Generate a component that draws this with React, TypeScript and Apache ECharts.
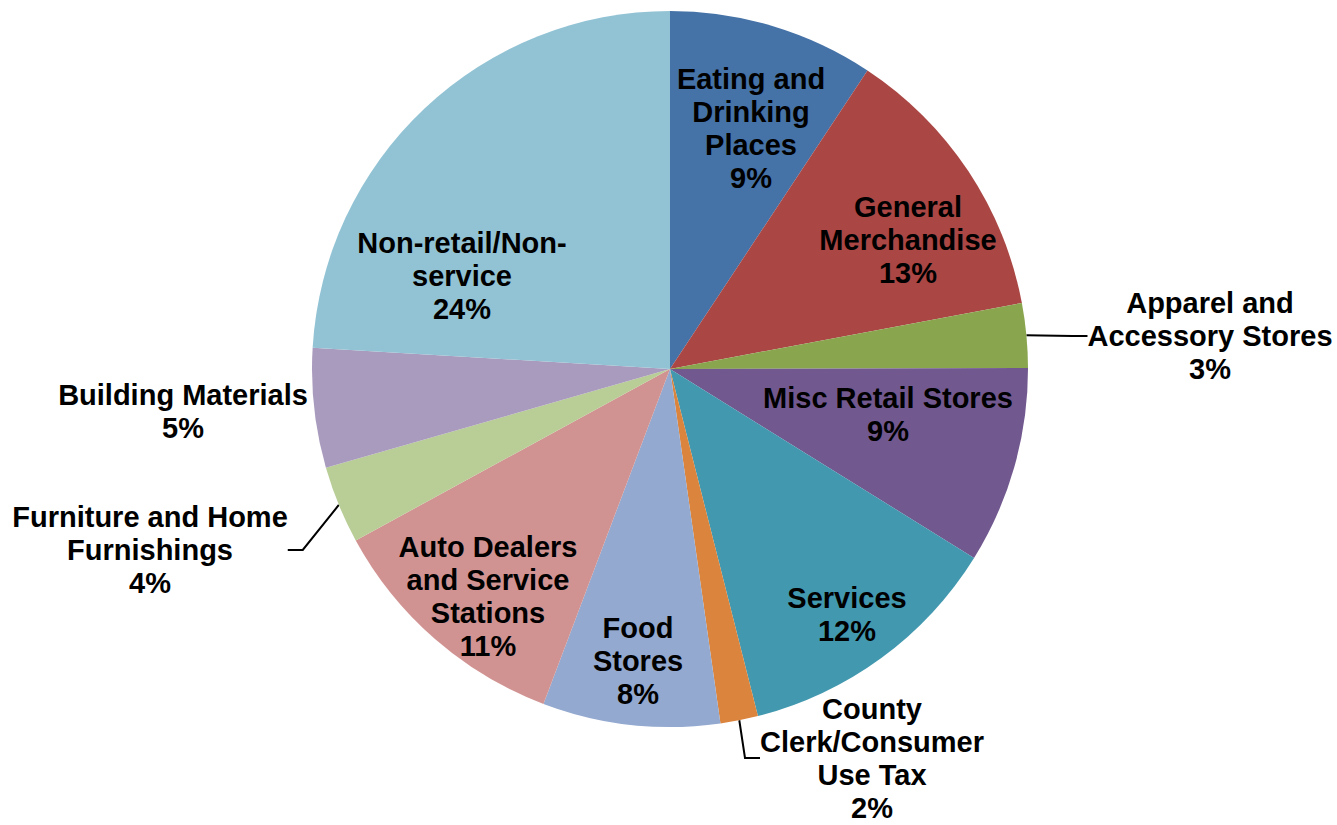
import React, { useEffect, useRef } from 'react';
import * as echarts from 'echarts';

const categories = [
  'Eating and\nDrinking\nPlaces',
  'General\nMerchandise',
  'Apparel and\nAccessory Stores',
  'Misc Retail Stores',
  'Services',
  'County\nClerk/Consumer\nUse Tax',
  'Food\nStores',
  'Auto Dealers\nand Service\nStations',
  'Furniture and Home\nFurnishings',
  'Building Materials',
  'Non-retail/Non-\nservice',
];
const values = [9.3, 12.75, 2.9, 8.9, 12.2, 1.7, 8.0, 11.3, 3.5, 5.4, 24.05];
const percentLabels = ['9%', '13%', '3%', '9%', '12%', '2%', '8%', '11%', '4%', '5%', '24%'];
const outsideLabel = [false, false, true, false, false, true, false, false, true, true, false];
const showLeader = [false, false, true, false, false, true, false, false, true, false, false];

const colors = [
  '#4572A7', '#AA4643', '#89A54E', '#71588F', '#4198AF', '#DB843D',
  '#93A9CF', '#D19392', '#B9CD96', '#A99BBD', '#92C3D4',
];
// label centre positions (layout only)
const labelCenters: [number, number][] = [
  [751, 128], [908, 240], [1210, 336], [888, 414], [847, 614], [872, 758],
  [638, 661], [488, 596], [150, 550], [183, 411], [462, 276],
];

export default function App() {
  const ref = useRef<HTMLDivElement>(null);
  useEffect(() => {
    if (!ref.current) return;
    const chart = echarts.init(ref.current, undefined, { renderer: 'svg' });
    chart.setOption({
      animation: false,
      backgroundColor: '#ffffff',
      series: [
        {
          type: 'pie',
          center: [670, 369],
          radius: 358,
          startAngle: 90,
          clockwise: true,
          avoidLabelOverlap: false,
          itemStyle: { borderWidth: 0 },
          label: {
            fontFamily: 'Liberation Sans, Arial, sans-serif',
            fontWeight: 'bold',
            fontSize: 29,
            lineHeight: 33,
            color: '#000',
            align: 'center',
            formatter: (p: any) => `${p.name}\n${percentLabels[p.dataIndex]}`,
          },
          labelLine: {
            lineStyle: { color: '#000', width: 2 },
            length: 20,
            length2: 15,
          },
          labelLayout: (p: any) => {
            const c = labelCenters[p.dataIndex];
            return { x: c[0], y: c[1], align: 'center', verticalAlign: 'middle' };
          },
          emphasis: { disabled: true },
          data: categories.map((name, i) => ({
            name,
            value: values[i],
            itemStyle: { color: colors[i] },
            label: { position: outsideLabel[i] ? 'outside' : 'inside' },
            labelLine: { show: showLeader[i] },
          })),
        },
      ],
    });
    return () => chart.dispose();
  }, []);
  return (
    <div
      ref={ref}
      style={{ position: 'absolute', left: 0, top: 0, width: 1337, height: 825 }}
    />
  );
}
